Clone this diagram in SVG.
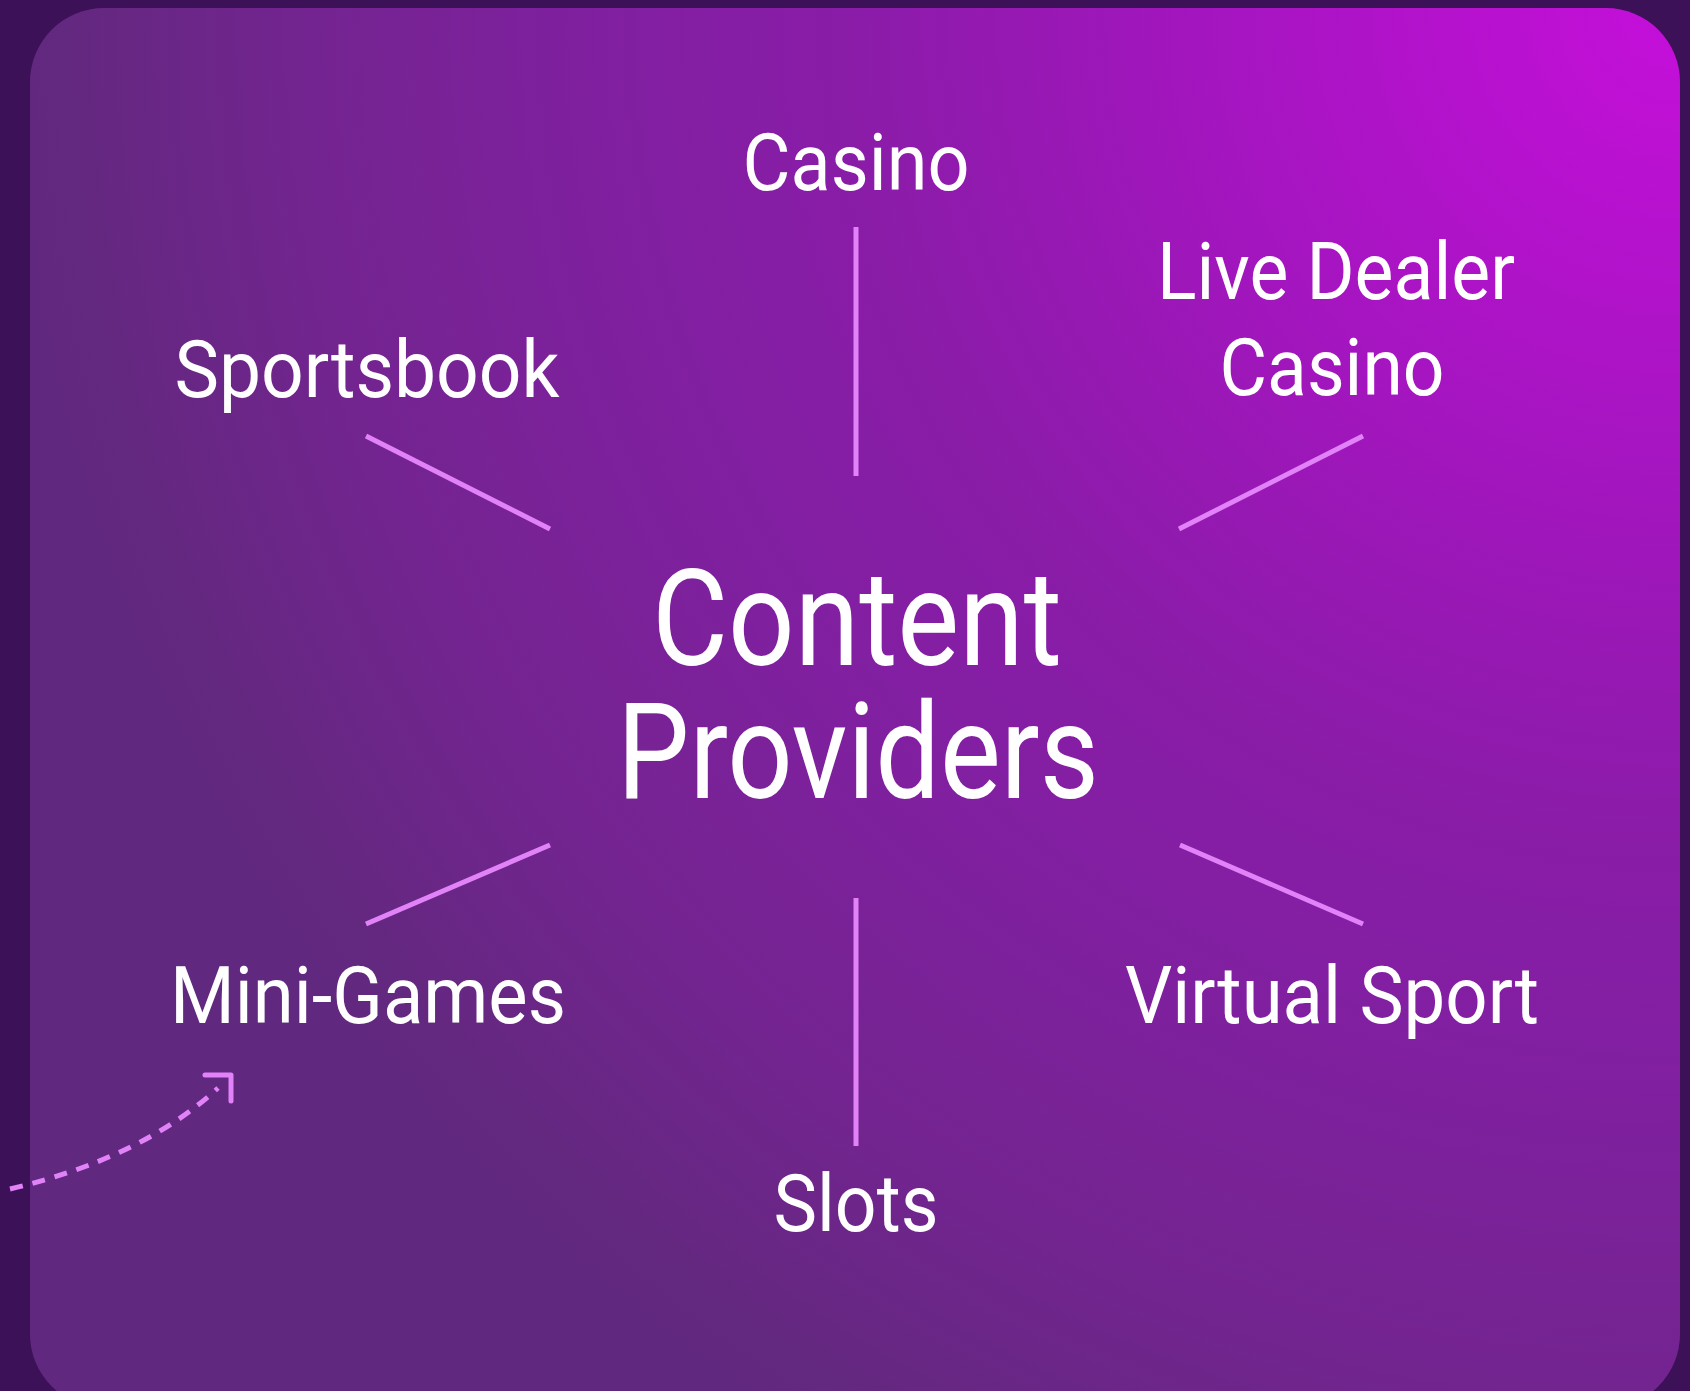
<svg xmlns="http://www.w3.org/2000/svg" width="1690" height="1391" viewBox="0 0 1690 1391">
  <defs>
    <radialGradient id="cardGrad" gradientUnits="userSpaceOnUse" cx="1680" cy="8" r="1700">
      <stop offset="0" stop-color="#c50fda"/>
      <stop offset="0.27" stop-color="#a515c0"/>
      <stop offset="0.49" stop-color="#8a1ca8"/>
      <stop offset="0.61" stop-color="#821fa2"/>
      <stop offset="0.81" stop-color="#732490"/>
      <stop offset="0.95" stop-color="#63287f"/>
      <stop offset="1" stop-color="#612880"/>
    </radialGradient>
    <style>
      .lbl { font-family: Roboto, "Liberation Sans", sans-serif; font-weight: 400; font-size: 80px; fill: #ffffff; text-anchor: middle; }
      .big { font-family: Roboto, "Liberation Sans", sans-serif; font-weight: 400; font-size: 134px; fill: #ffffff; text-anchor: middle; }
      .conn { stroke: #e282f8; stroke-width: 5; fill: none; stroke-linecap: butt; }
      .dash { stroke: #e282f8; stroke-width: 5; fill: none; stroke-dasharray: 13 10; }
      .head { stroke: #e282f8; stroke-width: 5; fill: none; stroke-linecap: round; stroke-linejoin: round; }
    </style>
  </defs>
  <rect x="0" y="0" width="1690" height="1391" fill="#3d1157"/>
  <rect x="30" y="8" width="1650" height="1400" rx="74" ry="74" fill="url(#cardGrad)"/>

  <g id="connectors">
    <line class="conn" x1="856" y1="227" x2="856" y2="476"/>
    <line class="conn" x1="366" y1="436" x2="550" y2="529"/>
    <line class="conn" x1="1363" y1="436" x2="1179" y2="529"/>
    <line class="conn" x1="550" y1="845" x2="366" y2="924"/>
    <line class="conn" x1="1180" y1="845" x2="1363" y2="924"/>
    <line class="conn" x1="856" y1="898" x2="856" y2="1146"/>
    <path class="dash" d="M10,1189 Q142,1158 218,1088"/>
    <path class="head" d="M205,1075 L231,1075 L231,1101"/>
  </g>

  <g id="center">
    <text class="big" x="857" y="665" textLength="410" lengthAdjust="spacingAndGlyphs">Content</text>
    <text class="big" x="858" y="798" textLength="482" lengthAdjust="spacingAndGlyphs">Providers</text>
  </g>
  <g id="casino">
    <text class="lbl" x="856" y="190" textLength="227" lengthAdjust="spacingAndGlyphs">Casino</text>
  </g>
  <g id="live-dealer-casino">
    <text class="lbl" x="1336" y="299" textLength="358" lengthAdjust="spacingAndGlyphs">Live Dealer</text>
    <text class="lbl" x="1332" y="395" textLength="225" lengthAdjust="spacingAndGlyphs">Casino</text>
  </g>
  <g id="sportsbook">
    <text class="lbl" x="367" y="397" textLength="385" lengthAdjust="spacingAndGlyphs">Sportsbook</text>
  </g>
  <g id="mini-games">
    <text class="lbl" x="368" y="1023" textLength="396" lengthAdjust="spacingAndGlyphs">Mini-Games</text>
  </g>
  <g id="virtual-sport">
    <text class="lbl" x="1332" y="1023" textLength="414" lengthAdjust="spacingAndGlyphs">Virtual Sport</text>
  </g>
  <g id="slots">
    <text class="lbl" x="856" y="1231" textLength="165" lengthAdjust="spacingAndGlyphs">Slots</text>
  </g>
</svg>
